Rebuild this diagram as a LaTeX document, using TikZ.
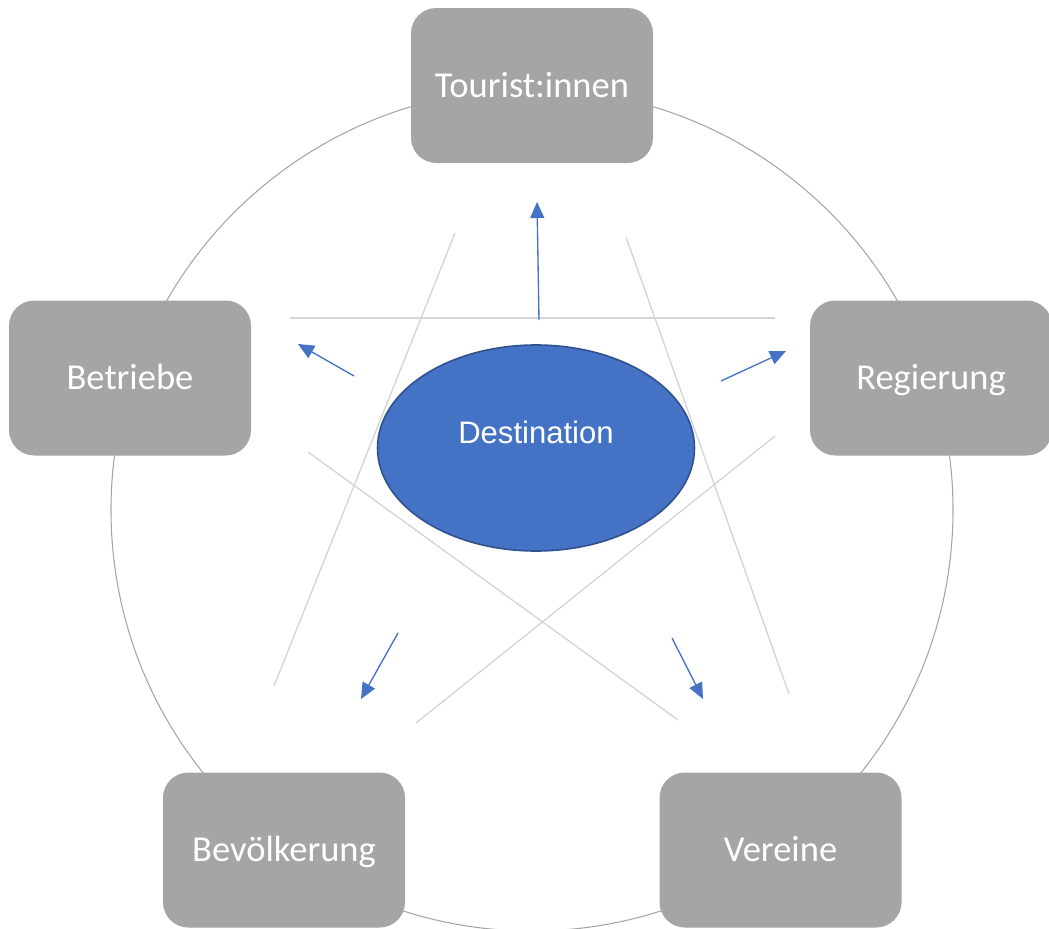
\documentclass[tikz,border=0pt]{standalone}
\usepackage{fontspec}
\setmainfont{Carlito}
\newfontfamily\arialfont{Liberation Sans}
\usetikzlibrary{shapes.geometric,arrows.meta}
\definecolor{boxgray}{HTML}{A5A5A5}
\definecolor{ringgray}{HTML}{A6A6A6}
\definecolor{stargray}{HTML}{D4D4D4}
\definecolor{destblue}{HTML}{4472C4}
\definecolor{destborder}{HTML}{2F528F}
\tikzset{
  actor/.style={rectangle, rounded corners=19pt, fill=boxgray, draw=none,
    minimum width=181.5pt, minimum height=116.25pt, inner sep=0pt,
    text height=17.65pt, text depth=0pt,
    text=white, font=\fontsize{27.4pt}{32pt}\selectfont},
  dest/.style={ellipse, fill=destblue, draw=destborder, line width=1.2pt,
    minimum width=237.75pt, minimum height=154.5pt, inner sep=0pt},
  destlabel/.style={text=white, font=\arialfont\fontsize{23.3pt}{28pt}\selectfont},
  ring/.style={draw=ringgray, line width=0.8pt},
  starline/.style={draw=stargray, line width=1pt},
  flow/.style={draw=destblue, line width=1pt, -{Triangle[length=12pt,width=10.5pt]}}
}
\begin{document}
\begin{tikzpicture}[x=0.75pt, y=-0.75pt]
\useasboundingbox (0,0) rectangle (1049,928);
% ring
\coordinate (ringc) at (532,510);
\draw[ring] (ringc) circle [radius=315.75pt];
% pentagram segments
\coordinate (s1a) at (290,318); \coordinate (s1b) at (775,318);
\coordinate (s2a) at (455,233); \coordinate (s2b) at (274,686);
\coordinate (s3a) at (626,237); \coordinate (s3b) at (789,694);
\coordinate (s4a) at (308,452); \coordinate (s4b) at (678,720);
\coordinate (s5a) at (775,436); \coordinate (s5b) at (416,723);
\draw[starline] (s1a) -- (s1b);
\draw[starline] (s2a) -- (s2b);
\draw[starline] (s3a) -- (s3b);
\draw[starline] (s4a) -- (s4b);
\draw[starline] (s5a) -- (s5b);
% boxes
\node[actor] (tour) at (532,85.5) {Tourist:innen};
\node[actor] (betr) at (130,378) {Betriebe};
\node[actor] (regi) at (931,378) {Regierung};
\node[actor] (bevo) at (284,850) {Bevölkerung};
\node[actor] (vere) at (780.5,850) {Vereine};
% destination
\node[dest, label={[destlabel, yshift=12pt]center:Destination}] (destn) at (536,448) {};
% arrows
\coordinate (a1s) at (539,320); \coordinate (a1e) at (537,202);
\coordinate (a2s) at (354,376); \coordinate (a2e) at (298,344);
\coordinate (a3s) at (721,381); \coordinate (a3e) at (786,351);
\coordinate (a4s) at (398,633); \coordinate (a4e) at (361,699);
\coordinate (a5s) at (672,638); \coordinate (a5e) at (703,699);
\draw[flow] (a1s) -- (a1e);
\draw[flow] (a2s) -- (a2e);
\draw[flow] (a3s) -- (a3e);
\draw[flow] (a4s) -- (a4e);
\draw[flow] (a5s) -- (a5e);
\end{tikzpicture}
\end{document}
